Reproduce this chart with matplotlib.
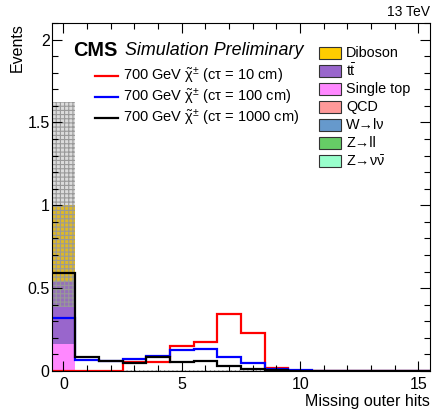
import numpy as np
import matplotlib
matplotlib.use("Agg")
from matplotlib import pyplot as plt
from matplotlib.patches import Rectangle
from matplotlib.ticker import MultipleLocator, FixedLocator, FixedFormatter

plt.rcParams['font.family'] = ['Liberation Sans', 'DejaVu Sans']
plt.rcParams['mathtext.fontset'] = 'custom'
plt.rcParams['mathtext.rm'] = 'Liberation Sans'
plt.rcParams['mathtext.it'] = 'Liberation Sans'
plt.rcParams['mathtext.bf'] = 'Liberation Sans:bold'
plt.rcParams['hatch.linewidth'] = 0.8

# missing outer hits, one bin per integer value
hits = np.arange(16)
edges = np.arange(-0.5, 16.0, 1.0)

# backgrounds (stacked, bottom first)
bkg_names = [r'Z→$\nu\bar{\nu}$', 'Z→ll', 'W→lν',
             'QCD', 'Single top', r't$\bar{\mathrm{t}}$', 'Diboson']
bkg_colors = ['#99FFCC', '#66CC66', '#6699CC', '#FF9999', '#FF88FF', '#9966CC', '#FFCC00']
znunu = [0.0] * 16
zll = [0.0] * 16
wlnu = [0.0] * 16
qcd = [0.0] * 16
single_top = [0.16] + [0.0] * 15
ttbar = [0.38] + [0.0] * 15
diboson = [0.46] + [0.0] * 15

# stat. uncertainty on the background sum
bkg_err_lo = [0.385] + [0.0] * 15
bkg_err_hi = [1.625] + [0.008] * 9 + [0.0] * 6

# 700 GeV chargino signal, three lifetimes
sig_labels = ['10 cm', '100 cm', '1000 cm']
sig_colors = ['#FF0000', '#0000FF', '#000000']
sig_10cm = [0.0, 0.0, 0.0, 0.052, 0.056, 0.152, 0.173, 0.343, 0.229, 0.019, 0.0, 0.0, 0.0, 0.0, 0.0, 0.0]
sig_100cm = [0.32, 0.066, 0.062, 0.074, 0.09, 0.124, 0.131, 0.085, 0.047, 0.014, 0.005, 0.0, 0.0, 0.0, 0.0, 0.0]
sig_1000cm = [0.593, 0.084, 0.058, 0.046, 0.083, 0.057, 0.06, 0.032, 0.012, 0.004, 0.0, 0.0, 0.0, 0.0, 0.0, 0.0]

fig = plt.figure(figsize=(4.34, 4.12), dpi=100)
ax = fig.add_axes([0.119, 0.0995, 0.8725, 0.8445])

bkgs = [znunu, zll, wlnu, qcd, single_top, ttbar, diboson]
bottom = np.zeros(len(hits))
for vals, col in zip(bkgs, bkg_colors):
    top = bottom + np.array(vals)
    if np.any(top > bottom):
        ax.stairs(top, edges, baseline=bottom, fill=True, color=col, linewidth=0)
    bottom = top

ax.stairs(bkg_err_hi, edges, baseline=bkg_err_lo, fill=True,
          facecolor=(0.55, 0.55, 0.55, 0.3), edgecolor=(0.6, 0.6, 0.6),
          hatch='++++', linewidth=0)

for vals, col in zip([sig_10cm, sig_100cm, sig_1000cm], sig_colors):
    ax.stairs(vals, edges, baseline=None, color=col, linewidth=1.6)

ax.set_xlim(-0.5, 15.5)
ax.set_ylim(0, 2.1)
ax.xaxis.set_major_locator(FixedLocator([0, 5, 10, 15]))
ax.xaxis.set_major_formatter(FixedFormatter(['0', '5', '10', '15']))
ax.xaxis.set_minor_locator(MultipleLocator(1))
ax.yaxis.set_major_locator(FixedLocator([0, 0.5, 1, 1.5, 2]))
ax.yaxis.set_major_formatter(FixedFormatter(['0', '0.5', '1', '1.5', '2']))
ax.yaxis.set_minor_locator(MultipleLocator(0.1))
ax.tick_params(which='both', direction='in', top=True, right=True, width=0.8, labelsize=11.5)
ax.tick_params(which='major', length=7.5)
ax.tick_params(which='minor', length=4)
ax.tick_params(axis='x', pad=4)
ax.tick_params(axis='y', pad=1.5)
for s in ax.spines.values():
    s.set_linewidth(0.8)

ax.set_xlabel('Missing outer hits', loc='right', fontsize=11.5, labelpad=1.5)
ax.set_ylabel('Events', loc='top', fontsize=11.5, labelpad=1.5)

# CMS label and signal legend
ax.text(0.0555, 0.922, 'CMS', transform=ax.transAxes, fontsize=14.3,
        fontweight='bold', va='center', ha='left')
ax.text(0.1945, 0.922, 'Simulation Preliminary', transform=ax.transAxes,
        fontsize=12.9, style='italic', va='center', ha='left')
for i, (lab, col) in enumerate(zip(sig_labels, sig_colors)):
    y = 0.848 - i * 0.0605
    ax.plot([0.1146, 0.1755], [y, y], color=col, linewidth=1.6, transform=ax.transAxes)
    ax.text(0.189, y, r'700 GeV $\tilde{\chi}^{\pm}$ (cτ = ' + lab + ')',
            transform=ax.transAxes, fontsize=10.5, va='center', ha='left')

# background legend, top entry first
for i, (lab, col) in enumerate(zip(bkg_names[::-1], bkg_colors[::-1])):
    y = 0.915 - i * 0.052
    ax.add_patch(Rectangle((0.7066, y - 0.0172), 0.0581, 0.0345, transform=ax.transAxes,
                           facecolor=col, edgecolor='#333333', linewidth=0.8))
    ax.text(0.778, y, lab, transform=ax.transAxes, fontsize=10.4, va='center', ha='left')

fig.text(0.991, 0.9697, '13 TeV', fontsize=10, ha='right', va='center')

fig.savefig('out.png', dpi=100)
